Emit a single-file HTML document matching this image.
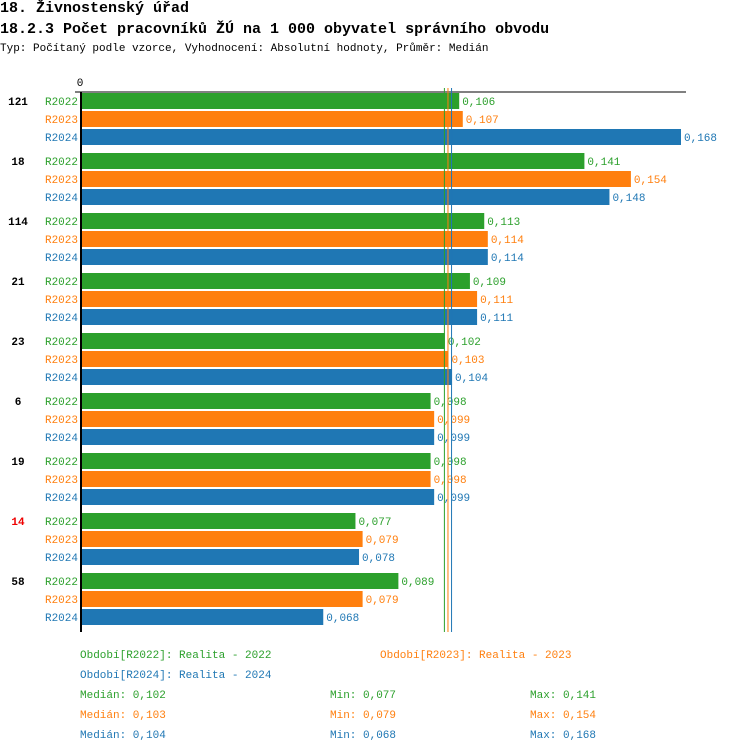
<!DOCTYPE html>
<html><head><meta charset="utf-8"><style>
body{margin:0;background:#fff;width:750px;height:752px;overflow:hidden;font-family:"Liberation Mono","DejaVu Sans Mono",monospace;}
.t{position:absolute;white-space:nowrap}
</style></head><body>
<div class="t" style="left:0;top:0;font-size:15px;font-weight:bold">18. Živnostenský úřad</div>
<div class="t" style="left:0;top:21px;font-size:15px;font-weight:bold">18.2.3 Počet pracovníků ŽÚ na 1 000 obyvatel správního obvodu</div>
<div class="t" style="left:0;top:43px;font-size:11px">Typ: Počítaný podle vzorce, Vyhodnocení: Absolutní hodnoty, Průměr: Medián</div>
<svg id="c" width="750" height="752" style="position:absolute;left:0;top:0"></svg>
<script>
const categories=["121","18","114","21","23","6","19","14","58"];
const highlight=[false,false,false,false,false,false,false,true,false];
const series=["R2022","R2023","R2024"];
const colors=["#2ca02c","#ff7f0e","#1f77b4"];
const v2022=[0.106,0.141,0.113,0.109,0.102,0.098,0.098,0.077,0.089];
const v2023=[0.107,0.154,0.114,0.111,0.103,0.099,0.098,0.079,0.079];
const v2024=[0.168,0.148,0.114,0.111,0.104,0.099,0.099,0.078,0.068];
const medians=[0.102,0.103,0.104];
const mins=[0.077,0.079,0.068];
const maxs=[0.141,0.154,0.168];
const vals=[v2022,v2023,v2024];
const x0=80,k=(681-80)/0.168;
const X=v=>x0+v*k;
const svg=document.getElementById('c');
const NS='http://www.w3.org/2000/svg';
function mk(t,a,txt){const e=document.createElementNS(NS,t);for(const n in a)e.setAttribute(n,a[n]);if(txt!==undefined)e.textContent=txt;svg.appendChild(e);return e;}
const F='font-family:"Liberation Mono","DejaVu Sans Mono",monospace;font-size:11px';
let e=mk('line',{x1:75,x2:686,y1:92,y2:92,stroke:'#000','stroke-width':1});


e=mk('text',{x:80,y:86,'text-anchor':'middle',style:F},'0');


categories.forEach((c,i)=>{
  const gy=93+i*60;
  e=mk('text',{x:18,y:gy+12,'text-anchor':'middle',style:F+';font-weight:bold',fill:highlight[i]?'#e00':'#000'},c);
  
  
  series.forEach((s,j)=>{
    const y=gy+j*18,v=vals[j][i];
    e=mk('text',{x:78,y:y+12,'text-anchor':'end',style:F,fill:colors[j]},s);
    
    
    e=mk('rect',{x:x0+2,y:y,width:X(v)-x0-2,height:16,fill:colors[j]});
    
    
    e=mk('text',{x:X(v)+3,y:y+12,style:F,fill:colors[j]},v.toFixed(3).replace('.',','));
    
    
  });
});
e=mk('rect',{x:80,y:92,width:2,height:540,fill:'#000'});


medians.forEach((m,j)=>{
  e=mk('line',{x1:X(m)-0.5,x2:X(m)-0.5,y1:88,y2:632,stroke:colors[j],'stroke-width':1});
  
  
});
const leg=[["Období[R2022]: Realita - 2022",80,658,0],["Období[R2023]: Realita - 2023",380,658,1],["Období[R2024]: Realita - 2024",80,678,2]];
leg.forEach(l=>{e=mk('text',{x:l[1],y:l[2],style:F,fill:colors[l[3]]},l[0]);

});
const f=v=>v.toFixed(3).replace('.',',');
[0,1,2].forEach(j=>{
  const y=698+j*20;
  e=mk('text',{x:80,y:y,style:F,fill:colors[j]},'Medián: '+f(medians[j]));
  
  
  e=mk('text',{x:330,y:y,style:F,fill:colors[j]},'Min: '+f(mins[j]));
  
  
  e=mk('text',{x:530,y:y,style:F,fill:colors[j]},'Max: '+f(maxs[j]));
  
  
});
</script>
</body></html>
